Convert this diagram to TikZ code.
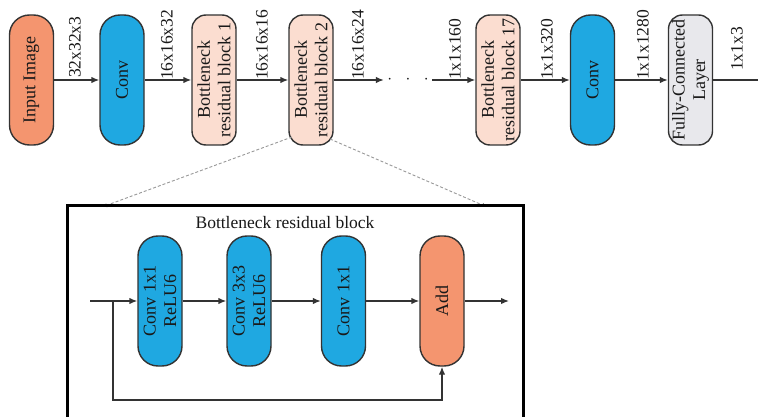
\documentclass[tikz,border=0pt]{standalone}
\usepackage{fontspec}
\setmainfont{Liberation Serif}
\usetikzlibrary{arrows.meta}
\definecolor{cOrange}{HTML}{F4956F}
\definecolor{cBlue}{HTML}{1FA8E1}
\definecolor{cPink}{HTML}{FBDDD0}
\definecolor{cGray}{HTML}{E8E8EC}
\definecolor{cLine}{HTML}{333333}
\begin{document}
\begin{tikzpicture}[x=1pt,y=-1pt,
  every node/.style={font=\fontsize{17.5}{20}\selectfont, text=black!90},
  blk/.style={draw=cLine, line width=1.4pt, rotate=90, minimum width=130pt,
    minimum height=44pt, inner sep=1pt, align=center,
    font=\fontsize{18}{20.5}\selectfont},
  pill/.style={blk, rounded corners=20pt},
  rbox/.style={blk, rounded corners=14pt},
  lab/.style={rotate=90, anchor=west, inner sep=1pt},
  arr/.style={draw=cLine, line width=1.4pt, -{Latex[length=8pt,width=6.5pt]}},
  zoomln/.style={draw=black!40, line width=0.9pt, dash pattern=on 3pt off 2pt,
    -{Latex[length=5pt,width=4pt,color=black]}}
]
\fill[white] (0,0) rectangle (758,417);
\useasboundingbox (0,0) rectangle (758,417);
\clip (0,0) rectangle (758,417);

% top row
\node[pill, fill=cOrange] (in) at (31.5,80) {Input Image};
\node[pill, fill=cBlue] (c1) at (122,80) {Conv};
\node[rbox, fill=cPink] (b1) at (214,80) {Bottleneck\\residual block 1};
\node[rbox, fill=cPink] (b2) at (311,80) {Bottleneck\\residual block 2};
\node (dots) at (408,80) {$\cdot\;\;\cdot\;\;\cdot$};
\node[rbox, fill=cPink] (b17) at (498,80) {Bottleneck\\residual block 17};
\node[pill, fill=cBlue] (c2) at (592.5,80) {Conv};
\node[rbox, fill=cGray] (fc) at (690.5,80) {Fully-Connected\\Layer};
\coordinate (end) at (770,80);

\draw[arr] (in.south) -- (c1.north);
\draw[arr] (c1.south) -- (b1.north);
\draw[arr] (b1.south) -- (b2.north);
\draw[arr] (b2.south) -- (dots.west);
\draw[arr] (dots.east) -- (b17.north);
\draw[arr] (b17.south) -- (c2.north);
\draw[arr] (c2.south) -- (fc.north);
\draw[arr] (fc.south) -- (end);

\node[lab] (l1) at (75,79) {32x32x3};
\node[lab] (l2) at (167,81) {16x16x32};
\node[lab] (l3) at (262,81) {16x16x16};
\node[lab] (l4) at (358,81) {16x16x24};
\node[lab] (l5) at (455,81) {1x1x160};
\node[lab] (l6) at (547,81) {1x1x320};
\node[lab] (l7) at (643,81) {1x1x1280};
\node[lab] (l8) at (737,72) {1x1x3};

% zoom lines
\coordinate (zl) at (102,207);
\coordinate (zr) at (487,207);
\draw[zoomln] ([xshift=-19pt,yshift=-57pt]b2.center) -- (zl);
\draw[zoomln] ([xshift=19pt,yshift=-59pt]b2.center) -- (zr);

% detail box
\draw[line width=3pt, black] (67,440) -- (67,205) -- (523,205) -- (523,440);
\node (title) at (285,223) {Bottleneck residual block};

\node[pill, fill=cBlue] (d1) at (160,301) {Conv 1x1\\ReLU6};
\node[pill, fill=cBlue] (d2) at (249,301) {Conv 3x3\\ReLU6};
\node[pill, fill=cBlue] (d3) at (343.5,301) {Conv 1x1};
\node[pill, fill=cOrange] (add) at (442,301) {Add};

\coordinate (din) at (90,301);
\coordinate (br) at (113,301);
\coordinate (lb) at (113,400);
\coordinate (dout) at (509,301);

\draw[arr] (din) -- (d1.north);
\draw[arr] (d1.south) -- (d2.north);
\draw[arr] (d2.south) -- (d3.north);
\draw[arr] (d3.south) -- (add.north);
\draw[arr] (add.south) -- (dout);
\draw[arr] (br) -- (lb) -| (add.west);
\end{tikzpicture}
\end{document}
